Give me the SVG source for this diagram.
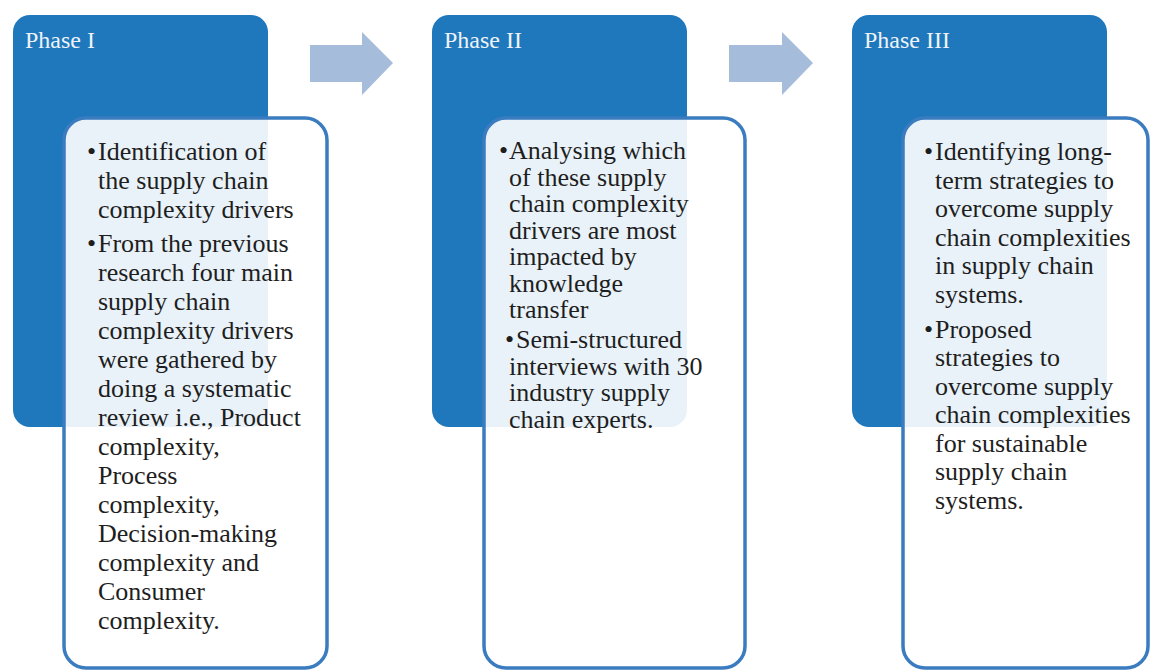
<svg xmlns="http://www.w3.org/2000/svg" width="1151" height="671" viewBox="0 0 1151 671">
<defs>
<style>
.dark{fill:#1f77bc;}
.inner{fill:#ffffff;fill-opacity:0.9;stroke:#3a7cbf;stroke-width:3.5;}
.title{font-family:"Liberation Serif","Times New Roman",serif;font-size:24px;fill:#eef3fa;}
.body{font-family:"Liberation Serif","Times New Roman",serif;font-size:26px;fill:#1e1e1e;}
.arrow{fill:#a6bcdb;}
</style>
</defs>
<rect width="1151" height="671" fill="#ffffff"/>
<g id="phase1-head">
<rect class="dark" x="13" y="15" width="255" height="412" rx="17"/>
<text class="title" x="25" y="48">Phase I</text>
</g>
<g id="phase2-head">
<rect class="dark" x="432" y="15" width="255" height="412" rx="17"/>
<text class="title" x="444" y="48">Phase II</text>
</g>
<g id="phase3-head">
<rect class="dark" x="852" y="15" width="255" height="412" rx="17"/>
<text class="title" x="864" y="48">Phase III</text>
</g>
<g id="connectors">
<polygon class="arrow" points="310,45 362,45 362,32 393,63 362,95 362,82 310,82"/>
<polygon class="arrow" points="729,45 782,45 782,32 813,63 782,95 782,82 729,82"/>
</g>
<g id="phase1-body">
<rect class="inner" x="64" y="118" width="263" height="550" rx="22"/>
<text class="body">
<tspan x="87" y="160">•</tspan><tspan x="98" y="160">Identification of</tspan>
<tspan x="98" y="189">the supply chain</tspan>
<tspan x="98" y="218">complexity drivers</tspan>
<tspan x="87" y="252">•</tspan><tspan x="98" y="252">From the previous</tspan>
<tspan x="98" y="281">research four main</tspan>
<tspan x="98" y="310">supply chain</tspan>
<tspan x="98" y="339">complexity drivers</tspan>
<tspan x="98" y="368">were gathered by</tspan>
<tspan x="98" y="397">doing a systematic</tspan>
<tspan x="98" y="426">review i.e., Product</tspan>
<tspan x="98" y="455">complexity,</tspan>
<tspan x="98" y="484">Process</tspan>
<tspan x="98" y="513">complexity,</tspan>
<tspan x="98" y="542">Decision-making</tspan>
<tspan x="98" y="571">complexity and</tspan>
<tspan x="98" y="600">Consumer</tspan>
<tspan x="98" y="629">complexity.</tspan>
</text>
</g>
<g id="phase2-body">
<rect class="inner" x="484" y="118" width="261" height="550" rx="22"/>
<text class="body">
<tspan x="499" y="159">•</tspan><tspan x="509" y="159">Analysing which</tspan>
<tspan x="509" y="185.5">of these supply</tspan>
<tspan x="509" y="212">chain complexity</tspan>
<tspan x="509" y="238.5">drivers are most</tspan>
<tspan x="509" y="265">impacted by</tspan>
<tspan x="509" y="291.5">knowledge</tspan>
<tspan x="509" y="318">transfer</tspan>
<tspan x="505" y="348">•</tspan><tspan x="516" y="348">Semi-structured</tspan>
<tspan x="509" y="374.5">interviews with 30</tspan>
<tspan x="509" y="401">industry supply</tspan>
<tspan x="509" y="427.5">chain experts.</tspan>
</text>
</g>
<g id="phase3-body">
<rect class="inner" x="903" y="118" width="245" height="550" rx="22"/>
<text class="body">
<tspan x="924" y="160">•</tspan><tspan x="935" y="160">Identifying long-</tspan>
<tspan x="935" y="189">term strategies to</tspan>
<tspan x="935" y="217">overcome supply</tspan>
<tspan x="935" y="246">chain complexities</tspan>
<tspan x="935" y="274">in supply chain</tspan>
<tspan x="935" y="303">systems.</tspan>
<tspan x="924" y="338">•</tspan><tspan x="935" y="338">Proposed</tspan>
<tspan x="935" y="366">strategies to</tspan>
<tspan x="935" y="395">overcome supply</tspan>
<tspan x="935" y="423">chain complexities</tspan>
<tspan x="935" y="452">for sustainable</tspan>
<tspan x="935" y="480">supply chain</tspan>
<tspan x="935" y="509">systems.</tspan>
</text>
</g>
</svg>
